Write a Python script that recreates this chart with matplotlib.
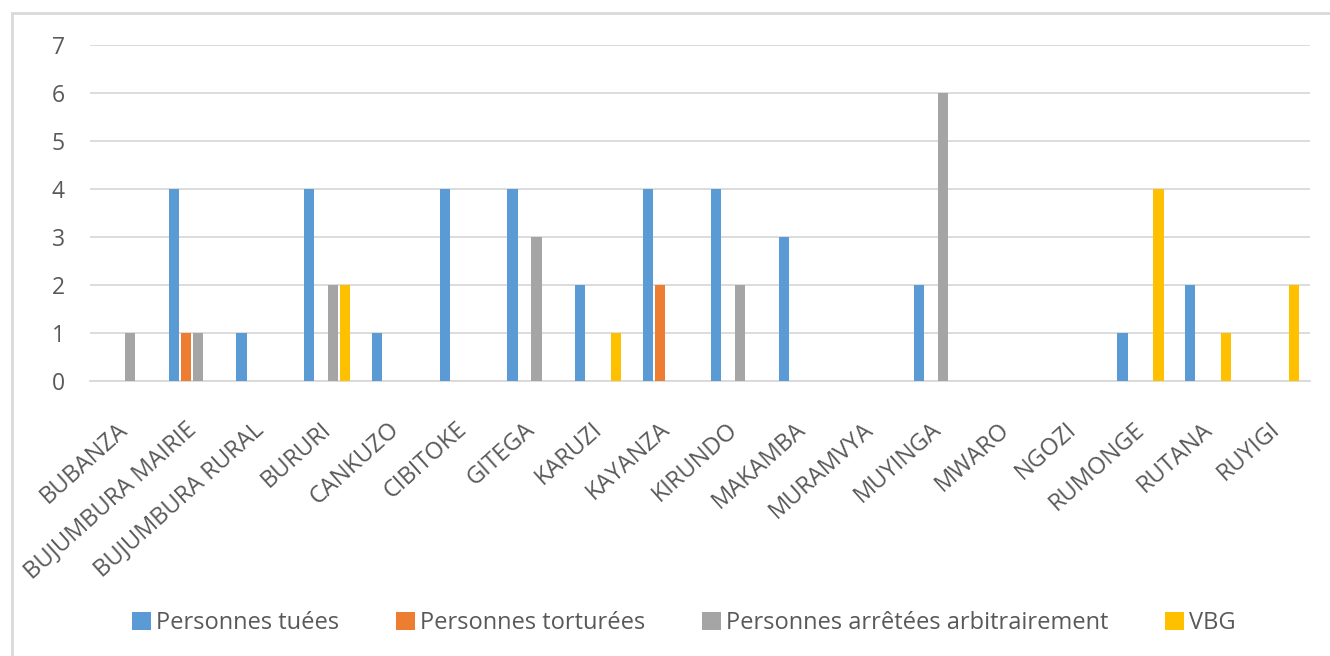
import numpy as np
import matplotlib
matplotlib.use("Agg")
import matplotlib.pyplot as plt
from matplotlib.patches import Rectangle
from matplotlib.transforms import ScaledTranslation

provinces = ["BUBANZA", "BUJUMBURA MAIRIE", "BUJUMBURA RURAL", "BURURI", "CANKUZO",
             "CIBITOKE", "GITEGA", "KARUZI", "KAYANZA", "KIRUNDO", "MAKAMBA",
             "MURAMVYA", "MUYINGA", "MWARO", "NGOZI", "RUMONGE", "RUTANA", "RUYIGI"]

tuees = [0, 4, 1, 4, 1, 4, 4, 2, 4, 4, 3, 0, 2, 0, 0, 1, 2, 0]
torturees = [0, 1, 0, 0, 0, 0, 0, 0, 2, 0, 0, 0, 0, 0, 0, 0, 0, 0]
arretees = [1, 1, 0, 2, 0, 0, 3, 0, 0, 2, 0, 0, 6, 0, 0, 0, 0, 0]
vbg = [0, 0, 0, 2, 0, 0, 0, 1, 0, 0, 0, 0, 0, 0, 0, 4, 1, 2]

series = [
    ("Personnes tuées", tuees, "#5B9BD5"),
    ("Personnes torturées", torturees, "#ED7D31"),
    ("Personnes arrêtées arbitrairement", arretees, "#A5A5A5"),
    ("VBG", vbg, "#FFC000"),
]

plt.rcParams["font.family"] = ["Open Sans", "DejaVu Sans"]
txt = "#595959"

fig = plt.figure(figsize=(13.3, 6.56), dpi=100)
ax = fig.add_axes([90 / 1330, 1 - 380.5 / 656, 1220 / 1330, 336 / 656])

x = np.arange(len(provinces))
pitch = 0.177
for i, (name, vals, col) in enumerate(series):
    ax.bar(x + (i - 1.5) * pitch, vals, width=0.15, color=col, label=name, zorder=3)

ax.set_xlim(-0.5, len(provinces) - 0.5)
ax.set_ylim(0, 7)
ax.set_yticks(range(8))
ax.yaxis.grid(True, color="#d9d9d9", linewidth=1.3, zorder=0)
for s in ["top", "right", "left"]:
    ax.spines[s].set_visible(False)
ax.spines["bottom"].set_color("#d9d9d9")
ax.spines["bottom"].set_linewidth(1.3)
ax.tick_params(axis="y", length=0, labelsize=16.5, colors=txt, pad=18)
ax.set_xticks(x)
ax.set_xticklabels(provinces, rotation=42, ha="right", va="center", rotation_mode="anchor")
ax.tick_params(axis="x", length=0, labelsize=17, colors=txt, pad=33)
# nudge the slanted labels so their ends sit just right of each group
shift = ScaledTranslation(1 / 100, 0, fig.dpi_scale_trans)
for lab in ax.get_xticklabels():
    lab.set_transform(lab.get_transform() + shift)

fig.legend(loc="center", bbox_to_anchor=(684 / 1330, 1 - 623 / 656), ncol=4, frameon=False,
           fontsize=17, labelcolor=txt, handlelength=0.8, handleheight=0.8,
           handletextpad=0.22, columnspacing=2.4, borderpad=0, borderaxespad=0)

# chart frame, only the left and top edges fall inside the image
fig.patches.append(Rectangle((12 / 1330, -0.1), 1.2, 1 - 13 / 656 + 0.1,
                             transform=fig.transFigure, fill=False,
                             edgecolor="#d9d9d9", linewidth=2))

fig.savefig("out.png", dpi=100)
